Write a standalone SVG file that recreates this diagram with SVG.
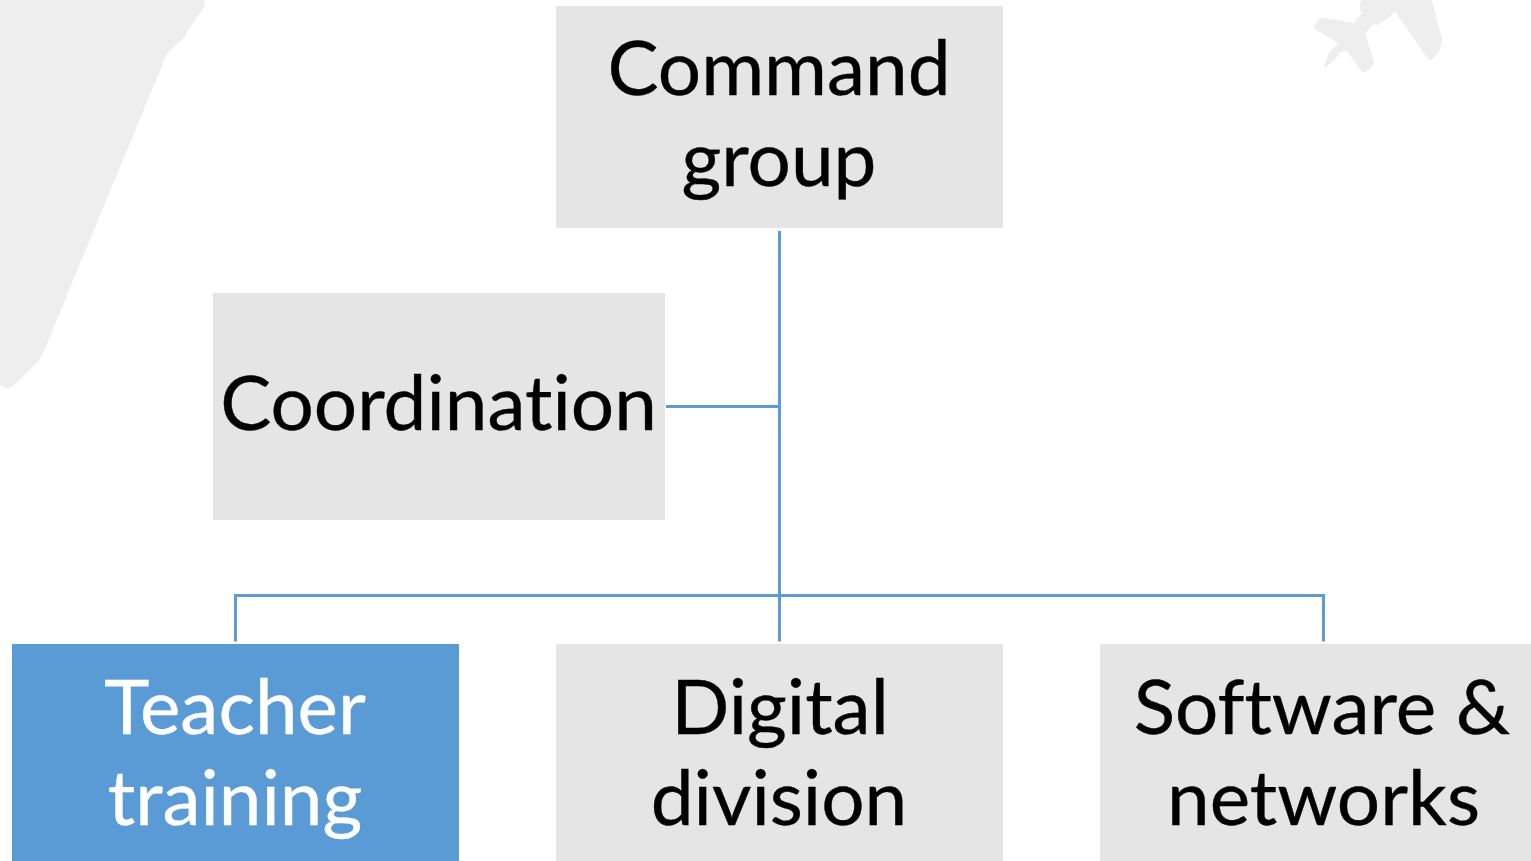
<svg xmlns="http://www.w3.org/2000/svg" width="1531" height="861" viewBox="0 0 1531 861">
<style>
.box{fill:#e5e5e5}
.t{font-family:"Lato","Open Sans",sans-serif;font-size:76.5px;text-anchor:middle;fill:#000;font-variant-ligatures:none;stroke:currentColor;stroke-width:0.4}
.c{fill:none;stroke:#5b9bd5;stroke-width:3}
.bg{fill:#eeeeee;stroke:#eeeeee;stroke-width:2;stroke-linejoin:round}
</style>
<rect width="1531" height="861" fill="#fff"/>
<path class="bg" d="M-2 -2H204L203 7L187 30L185 35L167 52L164 58L42 353L38 360L13 385L7 387L-2 383Z"/>
<path class="bg" d="M1363 -2H1430L1441 38L1439 50L1430 60L1395 10L1387 18L1377 24L1373 23L1364 33L1373 62L1370 68L1363 72L1347 49L1339 52L1335 58L1325 67L1328 58L1330 53L1340 43L1315 28L1319 20L1325 19L1354 24L1363 13L1360 8Z"/>
<g id="connectors">
<path class="c" d="M779.5 231V641.5M666 406.5H779.5M235.5 641.5V595.5H1323.5V641.5"/>
</g>
<g id="command" color="#000"><rect class="box" x="556" y="6" width="447" height="222"/><text class="t" x="779" y="95">Command</text><text class="t" x="779" y="186">group</text></g>
<g id="coordination" color="#000"><rect class="box" x="213" y="293" width="452" height="227"/><text class="t" x="438.500" y="430">Coordination</text></g>
<g id="teacher" color="#fff"><rect x="12" y="644" width="447" height="217" fill="#5b9bd5"/><text class="t" x="235" y="734" style="fill:#fff">Teacher</text><text class="t" x="235" y="825" style="fill:#fff">training</text></g>
<g id="digital" color="#000"><rect class="box" x="556" y="644" width="447" height="217"/><text class="t" x="780" y="734">Digital</text><text class="t" x="779" y="825">division</text></g>
<g id="software" color="#000"><rect class="box" x="1100" y="644" width="431" height="217"/><text class="t" x="1322" y="734">Software &amp;</text><text class="t" x="1323.500" y="825">networks</text></g>
</svg>
